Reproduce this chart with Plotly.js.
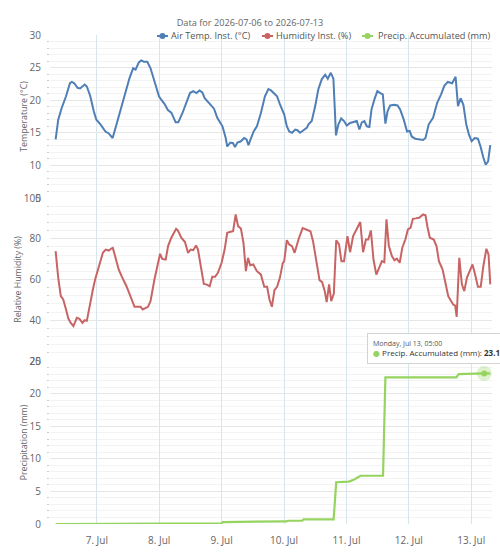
<!DOCTYPE html>
<html>
<head>
<meta charset="utf-8">
<script src="https://cdn.plot.ly/plotly-3.0.1.min.js"></script>
<style>
  html, body { margin: 0; padding: 0; background: #fff; }
  #chart { width: 500px; height: 552px; }
</style>
</head>
<body>
<div id="chart"></div>
<script>
// Weather station readings, 2026-07-06 .. 2026-07-13

const seriesNames = ['Air Temp. Inst. (°C)', 'Humidity Inst. (%)', 'Precip. Accumulated (mm)'];
const seriesColors = ['#4f7fb6', '#c86464', '#96d460'];

const tempTimes = [
  '2026-07-06 08:10','2026-07-06 09:10','2026-07-06 10:30','2026-07-06 12:10','2026-07-06 13:40','2026-07-06 14:25',
  '2026-07-06 15:20','2026-07-06 16:35','2026-07-06 17:35','2026-07-06 19:20','2026-07-06 20:10','2026-07-06 21:30',
  '2026-07-06 22:50','2026-07-06 23:50','2026-07-07 01:25','2026-07-07 03:20','2026-07-07 04:35','2026-07-07 06:05',
  '2026-07-07 07:10','2026-07-07 09:05','2026-07-07 11:00','2026-07-07 12:35','2026-07-07 14:00','2026-07-07 14:55',
  '2026-07-07 16:10','2026-07-07 17:05','2026-07-07 18:05','2026-07-07 19:25','2026-07-07 20:40','2026-07-07 22:10',
  '2026-07-07 23:55','2026-07-08 00:55','2026-07-08 02:05','2026-07-08 03:20','2026-07-08 04:40','2026-07-08 06:20',
  '2026-07-08 07:20','2026-07-08 08:55','2026-07-08 10:05','2026-07-08 11:50','2026-07-08 13:05','2026-07-08 14:20',
  '2026-07-08 15:30','2026-07-08 16:35','2026-07-08 17:30','2026-07-08 19:05','2026-07-08 21:05','2026-07-08 22:20',
  '2026-07-09 00:20','2026-07-09 01:35','2026-07-09 02:10','2026-07-09 03:20','2026-07-09 04:25','2026-07-09 05:10',
  '2026-07-09 06:05','2026-07-09 07:25','2026-07-09 08:40','2026-07-09 09:35','2026-07-09 10:20','2026-07-09 11:20',
  '2026-07-09 12:20','2026-07-09 13:35','2026-07-09 15:05','2026-07-09 16:40','2026-07-09 18:00','2026-07-09 19:00',
  '2026-07-09 20:00','2026-07-09 21:20','2026-07-09 22:30','2026-07-10 00:05','2026-07-10 01:05','2026-07-10 02:00',
  '2026-07-10 03:05','2026-07-10 04:20','2026-07-10 05:10','2026-07-10 06:10','2026-07-10 07:30','2026-07-10 08:50',
  '2026-07-10 09:25','2026-07-10 10:40','2026-07-10 12:00','2026-07-10 13:10','2026-07-10 14:30','2026-07-10 15:50',
  '2026-07-10 16:50','2026-07-10 18:00','2026-07-10 19:00','2026-07-10 20:00','2026-07-10 20:55','2026-07-10 22:00',
  '2026-07-10 23:05','2026-07-11 00:10','2026-07-11 01:25','2026-07-11 02:40','2026-07-11 04:00','2026-07-11 05:00',
  '2026-07-11 05:55','2026-07-11 06:55','2026-07-11 07:50','2026-07-11 08:50','2026-07-11 09:40','2026-07-11 10:50',
  '2026-07-11 11:55','2026-07-11 13:00','2026-07-11 14:00','2026-07-11 15:00','2026-07-11 15:50','2026-07-11 16:50',
  '2026-07-11 18:25','2026-07-11 19:40','2026-07-11 20:40','2026-07-11 22:00','2026-07-11 23:20','2026-07-12 00:20',
  '2026-07-12 01:10','2026-07-12 02:30','2026-07-12 04:10','2026-07-12 05:30','2026-07-12 06:25','2026-07-12 07:40',
  '2026-07-12 09:20','2026-07-12 10:55','2026-07-12 12:25','2026-07-12 13:40','2026-07-12 15:00','2026-07-12 16:40',
  '2026-07-12 18:00','2026-07-12 18:55','2026-07-12 19:55','2026-07-12 21:00','2026-07-12 22:05','2026-07-12 23:05',
  '2026-07-13 00:10','2026-07-13 01:20','2026-07-13 02:35','2026-07-13 03:35','2026-07-13 04:40','2026-07-13 05:35',
  '2026-07-13 06:30','2026-07-13 07:20'
];
const tempValues = [
  14.0,17.0,18.8,20.6,22.6,22.8,
  22.6,21.9,21.8,22.4,22.1,20.6,
  18.3,17.0,16.3,15.2,14.9,14.2,
  15.7,18.3,21.1,23.4,24.9,24.7,
  25.8,26.1,25.9,25.9,24.9,22.9,
  20.6,20.0,19.4,18.5,18.1,16.6,
  16.6,18.0,19.3,21.1,21.4,21.1,
  21.5,21.2,20.3,19.6,18.7,17.3,
  16.0,14.2,12.9,13.5,13.4,12.8,
  13.5,13.7,14.2,14.0,13.1,14.2,
  15.2,16.0,18.0,20.6,21.7,21.5,
  21.1,20.6,19.3,17.8,16.0,15.2,
  15.0,15.5,15.4,15.0,15.4,15.8,
  16.3,16.8,19.1,21.6,23.2,23.9,
  23.3,24.2,23.3,14.6,16.3,17.2,
  16.8,16.1,16.5,16.6,16.8,15.5,
  16.6,16.8,16.0,15.9,18.6,20.2,
  21.4,21.1,20.9,16.4,18.3,19.2,
  19.3,19.2,18.6,17.1,15.2,15.3,
  14.4,14.1,14.0,13.9,14.2,16.3,
  17.3,19.6,20.9,22.2,22.8,22.6,
  23.6,19.1,20.3,19.3,16.3,14.8,
  13.7,14.2,14.1,12.9,11.2,10.1,
  10.6,13.1
];

const humTimes = [
  '2026-07-06 08:10','2026-07-06 09:10','2026-07-06 10:10','2026-07-06 11:05','2026-07-06 12:10','2026-07-06 13:05',
  '2026-07-06 14:00','2026-07-06 15:00','2026-07-06 16:20','2026-07-06 17:20','2026-07-06 18:30','2026-07-06 19:20',
  '2026-07-06 20:10','2026-07-06 21:10','2026-07-06 22:30','2026-07-06 23:25','2026-07-07 00:40','2026-07-07 02:20',
  '2026-07-07 03:25','2026-07-07 04:35','2026-07-07 05:35','2026-07-07 06:10','2026-07-07 07:20','2026-07-07 08:25',
  '2026-07-07 09:40','2026-07-07 11:25','2026-07-07 12:55','2026-07-07 14:30','2026-07-07 15:50','2026-07-07 16:50',
  '2026-07-07 17:40','2026-07-07 18:50','2026-07-07 19:40','2026-07-07 20:40','2026-07-07 22:10','2026-07-08 00:20',
  '2026-07-08 01:10','2026-07-08 02:30','2026-07-08 03:25','2026-07-08 04:40','2026-07-08 06:30','2026-07-08 07:10',
  '2026-07-08 08:30','2026-07-08 09:55','2026-07-08 11:05','2026-07-08 12:05','2026-07-08 13:05','2026-07-08 14:10',
  '2026-07-08 14:55','2026-07-08 16:00','2026-07-08 17:10','2026-07-08 18:20','2026-07-08 19:25','2026-07-08 20:25',
  '2026-07-08 21:30','2026-07-08 22:35','2026-07-09 00:00','2026-07-09 01:10','2026-07-09 02:10','2026-07-09 03:30',
  '2026-07-09 04:25','2026-07-09 05:25','2026-07-09 06:20','2026-07-09 07:25','2026-07-09 08:25','2026-07-09 09:20',
  '2026-07-09 10:10','2026-07-09 11:00','2026-07-09 12:10','2026-07-09 13:35','2026-07-09 15:05','2026-07-09 16:25',
  '2026-07-09 17:30','2026-07-09 18:25','2026-07-09 19:20','2026-07-09 20:20','2026-07-09 21:20','2026-07-09 22:25',
  '2026-07-09 23:30','2026-07-10 00:05','2026-07-10 01:05','2026-07-10 02:00','2026-07-10 03:05','2026-07-10 04:05',
  '2026-07-10 05:40','2026-07-10 07:10','2026-07-10 08:35','2026-07-10 10:10','2026-07-10 11:10','2026-07-10 12:30',
  '2026-07-10 13:40','2026-07-10 14:40','2026-07-10 15:40','2026-07-10 16:25','2026-07-10 17:20','2026-07-10 18:10',
  '2026-07-10 19:10','2026-07-10 20:05','2026-07-10 21:10','2026-07-10 22:05','2026-07-10 23:05','2026-07-11 00:25',
  '2026-07-11 01:25','2026-07-11 02:35','2026-07-11 04:00','2026-07-11 05:20','2026-07-11 06:25','2026-07-11 07:30',
  '2026-07-11 08:25','2026-07-11 09:25','2026-07-11 10:25','2026-07-11 11:30','2026-07-11 12:35','2026-07-11 13:40',
  '2026-07-11 14:35','2026-07-11 15:25','2026-07-11 16:20','2026-07-11 17:30','2026-07-11 18:30','2026-07-11 19:25',
  '2026-07-11 20:30','2026-07-11 21:30','2026-07-11 22:40','2026-07-11 23:40','2026-07-12 00:40','2026-07-12 01:35',
  '2026-07-12 02:40','2026-07-12 04:00','2026-07-12 05:30','2026-07-12 06:25','2026-07-12 07:10','2026-07-12 08:05',
  '2026-07-12 09:35','2026-07-12 10:40','2026-07-12 11:35','2026-07-12 13:00','2026-07-12 14:05','2026-07-12 15:10',
  '2026-07-12 16:05','2026-07-12 17:05','2026-07-12 17:50','2026-07-12 18:25','2026-07-12 19:25','2026-07-12 20:25',
  '2026-07-12 21:20','2026-07-12 22:20','2026-07-12 23:25','2026-07-13 00:30','2026-07-13 01:30','2026-07-13 02:35',
  '2026-07-13 03:40','2026-07-13 04:40','2026-07-13 05:50','2026-07-13 06:40','2026-07-13 07:20'
];
const humValues = [
  73.9,60.8,51.8,50.2,45.3,40.7,
  38.7,37.1,41.2,40.7,38.7,40.0,
  39.7,46.9,55.1,60.3,65.7,73.1,
  74.7,74.2,75.2,75.5,70.1,64.9,
  61.3,56.7,51.8,46.6,46.6,46.6,
  45.3,46.1,46.6,49.4,60.0,72.6,
  70.1,69.8,76.4,80.5,84.9,84.1,
  80.5,78.4,73.1,74.7,74.4,76.7,
  74.7,66.5,57.8,57.5,56.7,61.3,
  61.3,63.3,68.2,74.7,82.9,83.4,
  83.7,91.9,86.2,85.0,78.0,64.1,
  70.6,67.0,67.4,64.1,62.5,56.4,
  56.4,50.2,46.6,54.8,56.4,60.8,
  67.9,69.0,79.3,77.2,76.4,73.1,
  80.0,85.2,84.6,83.7,78.8,67.4,
  59.7,58.7,54.3,48.9,57.6,49.4,
  53.1,79.3,77.2,69.0,69.0,81.3,
  73.4,81.3,84.6,88.2,73.4,79.6,
  79.6,84.1,69.8,62.4,65.7,69.0,
  68.5,89.5,76.4,71.5,69.4,70.2,
  68.2,75.6,79.6,84.6,85.4,89.8,
  90.0,90.3,91.9,91.5,85.9,80.5,
  79.6,76.4,69.0,64.9,58.4,51.8,
  49.8,47.7,47.2,41.6,70.6,57.6,
  54.3,60.8,64.1,67.4,62.5,56.4,
  56.4,66.5,75.1,72.3,57.6
];

const precipTimes = [
  '2026-07-06 08:10','2026-07-06 23:55','2026-07-07 00:05','2026-07-09 00:00','2026-07-09 00:30','2026-07-09 06:30',
  '2026-07-09 07:00','2026-07-10 01:00','2026-07-10 01:30','2026-07-10 07:00','2026-07-10 07:30','2026-07-10 19:05',
  '2026-07-10 20:05','2026-07-11 00:55','2026-07-11 02:50','2026-07-11 05:25','2026-07-11 14:05','2026-07-11 15:00',
  '2026-07-12 18:20','2026-07-12 19:10','2026-07-13 05:00','2026-07-13 07:20'
];
const precipValues = [
  0.0,0.0,0.1,0.1,0.3,0.3,
  0.4,0.4,0.5,0.5,0.7,0.7,
  6.4,6.5,6.8,7.4,7.4,22.5,
  22.5,23.0,23.1,23.1
];

// Highlighted reading shown in the tooltip
const hoverTime = '2026-07-13 05:00';

const xRange = ['2026-07-06 06:00', '2026-07-13 08:00'];
const chartTitle = 'Data for 2026-07-06 to 2026-07-13';

const dayNames = ['Sunday','Monday','Tuesday','Wednesday','Thursday','Friday','Saturday'];
const monthNames = ['Jan','Feb','Mar','Apr','May','Jun','Jul','Aug','Sep','Oct','Nov','Dec'];
function longDate(s) {
  const [d, t] = s.split(' ');
  const [y, m, dd] = d.split('-').map(Number);
  const wd = new Date(Date.UTC(y, m - 1, dd)).getUTCDay();
  return dayNames[wd] + ', ' + monthNames[m - 1] + ' ' + dd + ', ' + t;
}

const hoverIdx = precipTimes.indexOf(hoverTime);
const hoverX = precipTimes[hoverIdx];
const hoverY = precipValues[hoverIdx];

const traces = [
  { x: tempTimes, y: tempValues, xaxis: 'x', yaxis: 'y', mode: 'lines', name: seriesNames[0],
    line: { color: seriesColors[0], width: 2 }, showlegend: false, hoverinfo: 'skip' },
  { x: humTimes, y: humValues, xaxis: 'x', yaxis: 'y2', mode: 'lines', name: seriesNames[1],
    line: { color: seriesColors[1], width: 2 }, showlegend: false, hoverinfo: 'skip' },
  { x: precipTimes, y: precipValues, xaxis: 'x', yaxis: 'y3', mode: 'lines', name: seriesNames[2],
    line: { color: seriesColors[2], width: 2.2 }, showlegend: false, hoverinfo: 'skip' },
  // hover halo + marker on the highlighted precipitation reading
  { x: [hoverX], y: [hoverY], xaxis: 'x', yaxis: 'y3', mode: 'markers', showlegend: false, hoverinfo: 'skip',
    marker: { size: 15, color: 'rgba(150,212,96,0.3)' } },
  { x: [hoverX], y: [hoverY], xaxis: 'x', yaxis: 'y3', mode: 'markers', showlegend: false, hoverinfo: 'skip',
    marker: { size: 6, color: seriesColors[2] } }
];

// plot area in pixels (margins below)
const M = { l: 50, r: 8, t: 35, b: 28 };
const W = 500, H = 552;
const px = x => (x - M.l) / (W - M.l - M.r);
const py = y => (H - M.b - y) / (H - M.t - M.b);

// legend row: symbol start and text start for each series
const legendSymX = [157, 262, 362];
const legendTextX = [170, 275, 377];
const legendY = 36;

const shapes = [];
const annotations = [];
seriesNames.forEach((n, i) => {
  shapes.push({ type: 'line', xref: 'paper', yref: 'paper', x0: px(legendSymX[i]), x1: px(legendSymX[i] + 11),
    y0: py(legendY), y1: py(legendY), line: { color: seriesColors[i], width: 2 } });
  shapes.push({ type: 'circle', xref: 'paper', yref: 'paper', xsizemode: 'pixel', ysizemode: 'pixel',
    xanchor: px(legendSymX[i] + 5.5), yanchor: py(legendY), x0: -3, x1: 3, y0: -3, y1: 3,
    fillcolor: seriesColors[i], line: { width: 0 } });
  annotations.push({ xref: 'paper', yref: 'paper', x: px(legendTextX[i]), y: py(legendY),
    xanchor: 'left', yanchor: 'middle', showarrow: false, text: n, borderpad: 0,
    font: { size: 9.2, color: '#555' } });
});

// tooltip for the highlighted reading
annotations.push({
  x: hoverX, y: hoverY, xref: 'x', yref: 'y3',
  xanchor: 'center', yanchor: 'middle', xshift: -48, yshift: 25,
  showarrow: false, align: 'left',
  text: '<span style="font-size:7px;color:#555">' + longDate(hoverX) + '</span><br>' +
        '<span style="color:' + seriesColors[2] + '">●</span> ' + seriesNames[2] + ': <b>' + hoverY.toFixed(1) + '</b>',
  font: { size: 8, color: '#333' },
  bgcolor: 'rgba(255,255,255,0.96)', bordercolor: '#d4d4d4', borderwidth: 1, borderpad: 5
});

const gridMajor = '#e6e6e6';
const gridMinor = '#f3f3f3';
const tickColor = '#666';

function yAxis(domain, range, dtick, minorDtick, titleText) {
  return {
    domain: domain, range: range, dtick: dtick, tick0: 0, anchor: 'x',
    showline: false, zeroline: false, gridcolor: gridMajor, gridwidth: 1,
    ticks: '', ticklabelstandoff: 8,
    tickfont: { size: 10, color: tickColor },
    title: { text: titleText, font: { size: 8.8, color: '#666' }, standoff: 0 },
    minor: { dtick: minorDtick, showgrid: true, gridcolor: gridMinor, ticks: 'outside', ticklen: 2, tickcolor: '#cccccc' },
    fixedrange: true
  };
}

const layout = {
  width: W, height: H,
  margin: { l: M.l, r: M.r, t: M.t, b: M.b, autoexpand: false },
  paper_bgcolor: '#ffffff', plot_bgcolor: '#ffffff',
  font: { family: '"Open Sans", "DejaVu Sans", sans-serif', color: '#666' },
  title: { text: chartTitle, font: { size: 9.2, color: '#666' }, x: 0.5, xanchor: 'center', y: 1 - 23 / H, yanchor: 'middle' },
  showlegend: false,
  xaxis: {
    type: 'date', range: xRange, anchor: 'y3',
    tick0: '2026-07-07', dtick: 86400000, tickformat: '%-d. %b',
    showgrid: true, gridcolor: '#d6e6ec', gridwidth: 1, showline: false, zeroline: false,
    ticks: '', ticklabelstandoff: 9, tickfont: { size: 10, color: tickColor }, fixedrange: true
  },
  yaxis: yAxis([2 / 3, 1], [5, 30], 5, 1, 'Temperature (°C)'),
  yaxis2: yAxis([1 / 3, 2 / 3], [20, 100], 20, 4, 'Relative Humidity (%)'),
  yaxis3: yAxis([0, 1 / 3], [0, 25], 5, 1, 'Precipitation (mm)'),
  shapes: shapes,
  annotations: annotations,
  hovermode: false
};

Plotly.newPlot('chart', traces, layout, { displayModeBar: false, staticPlot: true });
</script>
</body>
</html>
